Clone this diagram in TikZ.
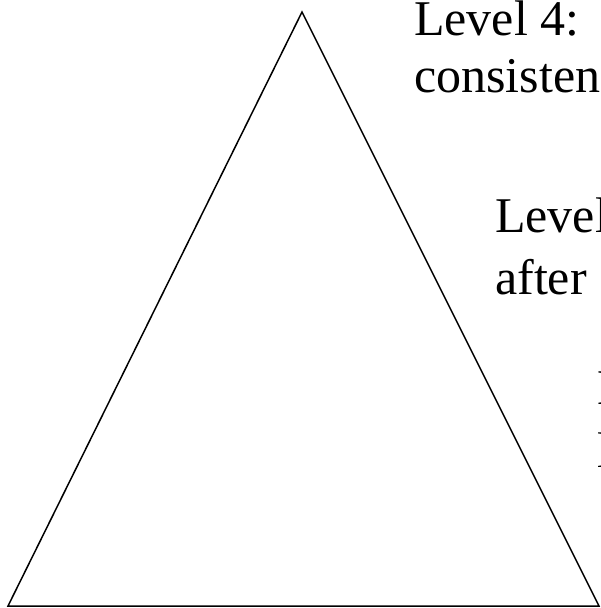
\documentclass[tikz,border=0pt]{standalone}
\usepackage{fontspec}
\setmainfont{Liberation Serif}
\begin{document}
\begin{tikzpicture}[x=1pt,y=-1pt,
  levelline/.style={anchor=base west,inner sep=0pt,font=\fontsize{50}{60}\selectfont},
  outline/.style={draw=black,line width=1.5pt,line join=miter}]
\useasboundingbox (0,0) rectangle (600,608);
\clip (0,0) rectangle (600,608);
% pyramid outline
\coordinate (apex) at (302,12);
\coordinate (baseL) at (8,606);
\coordinate (baseR) at (599,606);
\draw[outline] (apex) -- (baseL) -- (baseR) -- cycle;
% level captions, stepping right down the slope
\node[levelline] (l4a) at (414,35) {Level 4:};
\node[levelline] (l4b) at (414,92) {consisten};
\node[levelline] (l3a) at (495,232) {Level 3};
\node[levelline] (l3b) at (495,294) {after};
\node[levelline] (l2a) at (597,404) {L};
\node[levelline] (l2b) at (597,467) {l};
\end{tikzpicture}
\end{document}
